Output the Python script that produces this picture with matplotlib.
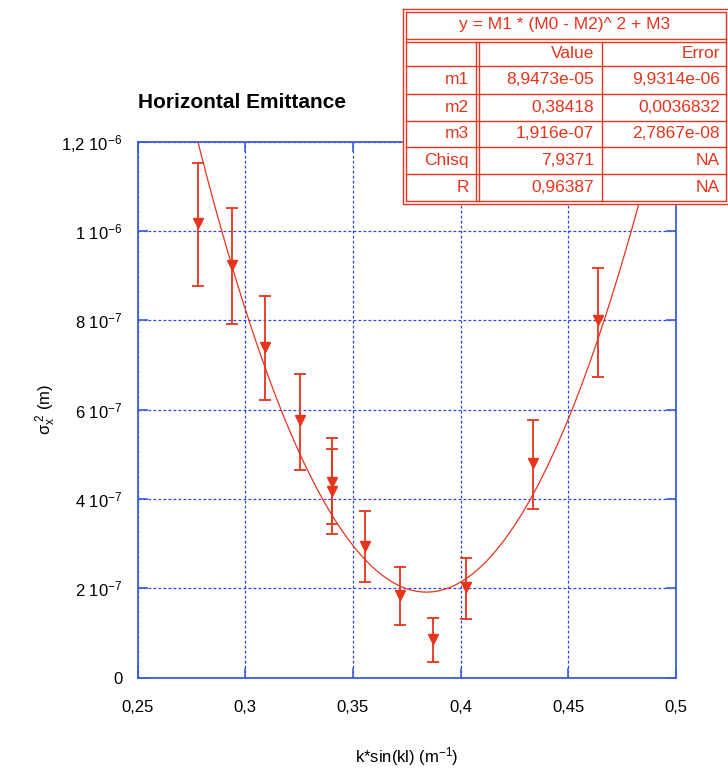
import numpy as np
import matplotlib
matplotlib.use("Agg")
import matplotlib.pyplot as plt

plt.rcParams['font.family'] = ['Liberation Sans', 'DejaVu Sans']
plt.rcParams['mathtext.fontset'] = 'custom'
plt.rcParams['mathtext.rm'] = 'Liberation Sans'
plt.rcParams['mathtext.it'] = 'Liberation Sans:italic'

# measured points (x, value, lower and upper end of error bar), y in units of 1e-6 m^2
k_sin = [0.2779, 0.2940, 0.3092, 0.3253, 0.3405, 0.3405, 0.3558, 0.3719, 0.3872, 0.4025, 0.4338, 0.4639]
sigma2 = [1.018, 0.924, 0.741, 0.577, 0.439, 0.419, 0.295, 0.186, 0.0866, 0.204, 0.4815, 0.801]
sigma2_lo = [0.877, 0.791, 0.622, 0.466, 0.321, 0.343, 0.215, 0.117, 0.0354, 0.131, 0.377, 0.674]
sigma2_hi = [1.152, 1.051, 0.854, 0.681, 0.536, 0.512, 0.374, 0.247, 0.134, 0.2675, 0.5776, 0.918]

# fit parameters as shown in the box
m1 = 8.9473e-05
m2 = 0.38418
m3 = 1.916e-07

x_ticks = [0.25, 0.3, 0.35, 0.4, 0.45, 0.5]
x_ticklabels = ['0,25', '0,3', '0,35', '0,4', '0,45', '0,5']
y_ticks = [0, 2e-7, 4e-7, 6e-7, 8e-7, 1e-6, 1.2e-6]
y_ticklabels = ['0', '2 10$^{-7}$', '4 10$^{-7}$', '6 10$^{-7}$', '8 10$^{-7}$',
                '1 10$^{-6}$', '1,2 10$^{-6}$']

tbl_header = 'y = M1 * (M0 - M2)^ 2 + M3'
tbl_cols = ['Value', 'Error']
tbl_rows = ['m1', 'm2', 'm3', 'Chisq', 'R']
tbl_values = ['8,9473e-05', '0,38418', '1,916e-07', '7,9371', '0,96387']
tbl_errors = ['9,9314e-06', '0,0036832', '2,7867e-08', 'NA', 'NA']

red = '#e8341c'
blue = '#3a5ee0'
gridblue = '#2840f0'

W, H = 728, 774
fig = plt.figure(figsize=(W / 100, H / 100), dpi=100)
ax = fig.add_axes([137.5 / W, 1 - 677.7 / H, (676 - 137.5) / W, (677.7 - 141.7) / H])

x = np.array(k_sin)
y = np.array(sigma2) * 1e-6
lo = y - np.array(sigma2_lo) * 1e-6
hi = np.array(sigma2_hi) * 1e-6 - y

xf = np.linspace(0.25, 0.5, 400)
yf = m1 * (xf - m2) ** 2 + m3
ax.plot(xf, yf, color=red, lw=0.9, zorder=3)

ax.errorbar(x, y, yerr=[lo, hi], fmt='v', color=red, ms=7, elinewidth=1.3,
            capsize=4, capthick=1.3, zorder=4)

ax.set_xlim(0.25, 0.5)
ax.set_ylim(0, 1.2e-6)
ax.set_xticks(x_ticks)
ax.set_xticklabels(x_ticklabels)
ax.set_yticks(y_ticks)
ax.set_yticklabels(y_ticklabels)
ax.grid(True, color=gridblue, lw=0.9, linestyle=(0, (2.2, 1.8)))
ax.tick_params(direction='in', length=7, width=1.2, color=blue, top=True, right=True,
               labelsize=12, pad=11)
ax.tick_params(axis='x', pad=16)
for s in ax.spines.values():
    s.set_color(blue)
    s.set_linewidth(1.3)

ax.set_xlabel('k*sin(kl) (m$^{-1}$)', fontsize=12, labelpad=22)
ax.set_ylabel(r'σ$_{\mathrm{x}}^{\ 2}$ (m)', fontsize=12, labelpad=2)
fig.text(137.5 / W, 1 - 108 / H, 'Horizontal Emittance', fontsize=15, fontweight='bold',
         va='baseline', ha='left')

# fit result box, drawn in pixel coordinates on an overlay axes
ov = fig.add_axes([0, 0, 1, 1], zorder=10)
ov.set_xlim(0, W)
ov.set_ylim(H, 0)
ov.axis('off')
ov.patch.set_alpha(0)

L, R, T, B = 402.7, 728.5, 8.7, 204
ov.fill([L, R, R, L], [T, T, B, B], color='white', zorder=1)
for (l, r, t, b) in [(L, R, T, B), (L + 3.3, R - 3, T + 3.3, B - 3.5)]:
    ov.plot([l, r, r, l, l], [t, t, b, b, t], color=red, lw=1.0, zorder=2, clip_on=False)
hdr = [39, 41.5]
for yy in hdr:
    ov.plot([L + 3.3, R - 3], [yy, yy], color=red, lw=1.0, zorder=2)
row_lines = [66.3, 93.7, 120.7, 147, 174]
for yy in row_lines:
    ov.plot([L + 3.3, R - 3], [yy, yy], color=red, lw=1.0, zorder=2)
for xx in [476, 478.7]:
    ov.plot([xx, xx], [41.5, B - 3.5], color=red, lw=1.0, zorder=2)
ov.plot([601.7, 601.7], [41.5, B - 3.5], color=red, lw=1.0, zorder=2)

fs = 12.5
ov.text(565, 25, tbl_header, color=red, fontsize=fs, ha='center', va='center', zorder=3)
row_y = [53.8, 80, 107.2, 133.9, 160.5, 187.2]
ov.text(594, row_y[0], tbl_cols[0], color=red, fontsize=fs, ha='right', va='center', zorder=3)
ov.text(720, row_y[0], tbl_cols[1], color=red, fontsize=fs, ha='right', va='center', zorder=3)
for i in range(len(tbl_rows)):
    ov.text(469, row_y[i + 1], tbl_rows[i], color=red, fontsize=fs, ha='right', va='center', zorder=3)
    ov.text(594, row_y[i + 1], tbl_values[i], color=red, fontsize=fs, ha='right', va='center', zorder=3)
    ov.text(720, row_y[i + 1], tbl_errors[i], color=red, fontsize=fs, ha='right', va='center', zorder=3)

fig.savefig('out.png', dpi=100)
